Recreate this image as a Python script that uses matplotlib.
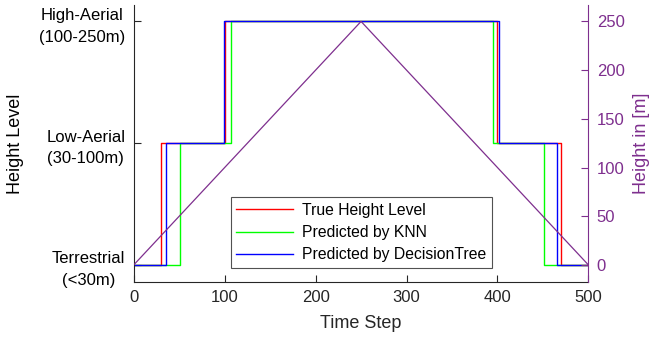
import matplotlib
matplotlib.use("Agg")
import matplotlib.pyplot as plt

plt.rcParams['font.family'] = ['Liberation Sans', 'DejaVu Sans']

# height levels: 0 = Terrestrial, 1 = Low-Aerial, 2 = High-Aerial
level_names = ["Terrestrial\n(<30m)", "Low-Aerial\n(30-100m)", "High-Aerial\n(100-250m)"]

# change points (time step, level from then on)
true_t = [0, 30, 100, 400, 470, 500]
true_lvl = [0, 1, 2, 1, 0, 0]
knn_t = [0, 51, 107, 395, 451, 500]
knn_lvl = [0, 1, 2, 1, 0, 0]
tree_t = [0, 36, 99, 402, 465, 500]
tree_lvl = [0, 1, 2, 1, 0, 0]

# flight altitude profile
alt_t = [0, 250, 500]
alt_m = [0, 250, 0]

purple = (0.494, 0.184, 0.556)
axcol = (0.15, 0.15, 0.15)

fig = plt.figure(figsize=(6.56, 3.42), dpi=100)
ax = fig.add_axes((0.2038, 0.1754, 0.6932, 0.81))

ax.plot(true_t, true_lvl, drawstyle="steps-post", color=(1, 0, 0), lw=1, label="True Height Level")
ax.plot(knn_t, knn_lvl, drawstyle="steps-post", color=(0, 1, 0), lw=1, label="Predicted by KNN")
ax.plot(tree_t, tree_lvl, drawstyle="steps-post", color=(0, 0, 1), lw=1, label="Predicted by DecisionTree")

lo, hi = -0.14, 2.135
ax.set_ylim(lo, hi)
ax.set_xlim(0, 500)
ax.set_xticks(range(0, 501, 100))
ax.set_yticks([0, 1, 2])
ax.set_yticklabels(level_names, multialignment="center", linespacing=1.55)
ax.set_xlabel("Time Step", fontsize=13, color=axcol, labelpad=7)
ax.set_ylabel("Height Level", fontsize=13, color="black", labelpad=11)
ax.tick_params(direction="in", length=5, labelsize=12, colors=axcol, pad=6)
ax.tick_params(axis="y", labelcolor="black")
for s in ["top", "right"]:
    ax.spines[s].set_visible(False)
for s in ["left", "bottom"]:
    ax.spines[s].set_color(axcol)

ax2 = ax.twinx()
ax2.plot(alt_t, alt_m, color=purple, lw=0.9)
ax2.set_ylim(lo * 125, hi * 125)
ax2.set_yticks(range(0, 251, 50))
ax2.set_ylabel("Height in [m]", fontsize=13, color=purple, labelpad=6)
ax2.tick_params(direction="in", length=5, labelsize=12, colors=purple, pad=6)
for s in ["top", "left", "bottom"]:
    ax2.spines[s].set_visible(False)
ax2.spines["right"].set_color(purple)

leg = ax.legend(loc="center", fontsize=11.3, frameon=True, fancybox=False, handlelength=3.6,
                borderpad=0.35, labelspacing=0.45, handletextpad=0.6, borderaxespad=0)
leg.set_bbox_to_anchor((235 / 656, (342 - 268) / 342, (488 - 235) / 656, 71 / 342), transform=fig.transFigure)
leg.get_frame().set_edgecolor(axcol)
leg.get_frame().set_linewidth(0.8)
leg.set_zorder(5)

fig.savefig("out.png", dpi=100)
